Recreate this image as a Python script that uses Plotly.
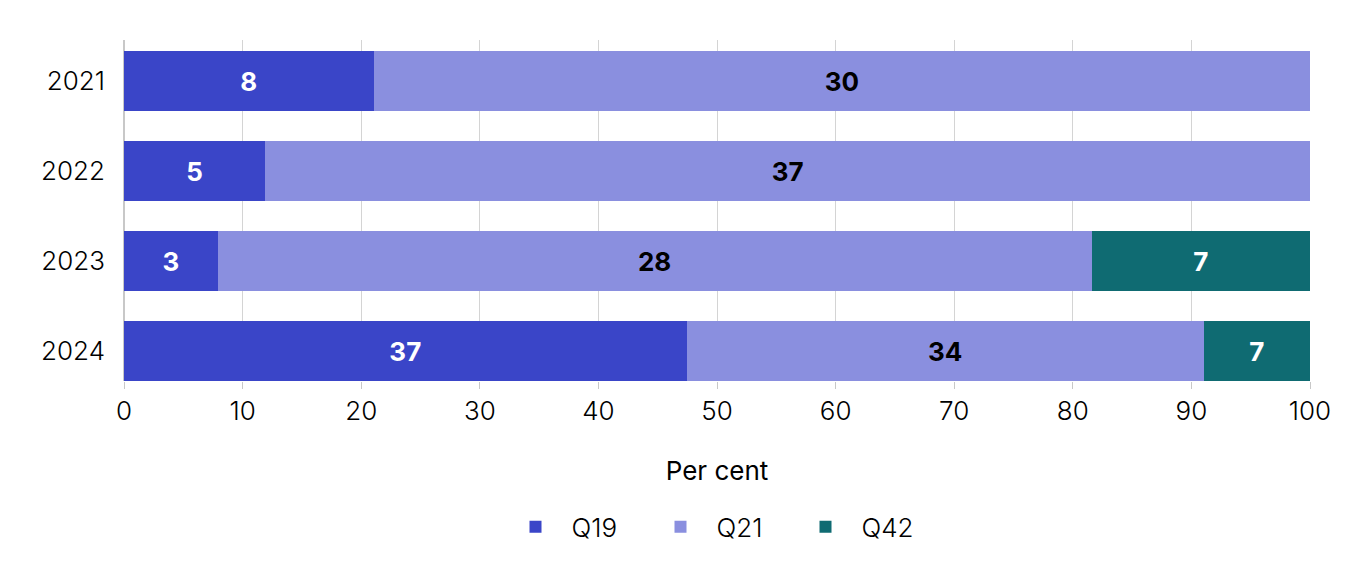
import plotly.graph_objects as go

years = ["2021", "2022", "2023", "2024"]
q19 = [8, 5, 3, 37]
q21 = [30, 37, 28, 34]
q42 = [None, None, 7, 7]

series = [
    ("Q19", q19, "#3a45c8", "white"),
    ("Q21", q21, "#8a8fdf", "black"),
    ("Q42", q42, "#0f6b72", "white"),
]

FONT = "Inter"
fig = go.Figure()
for name, vals, color, tcolor in series:
    fig.add_trace(go.Bar(
        y=years, x=vals, name=name, orientation="h",
        marker=dict(color=color, line=dict(width=0)),
        text=[str(v) if v is not None else "" for v in vals],
        textposition="inside", insidetextanchor="middle",
        textfont=dict(family=FONT, size=26, color=tcolor, weight=700),
        hoverinfo="skip",
    ))

fig.update_layout(
    barmode="stack", barnorm="percent", bargap=0.333,
    width=1360, height=580,
    margin=dict(l=116, r=58, t=32, b=207, autoexpand=False),
    paper_bgcolor="white", plot_bgcolor="white",
    font=dict(family=FONT, size=26, color="black"),
    legend=dict(orientation="h", x=0.5, xanchor="center", y=-0.428, yanchor="middle",
                font=dict(family=FONT, size=26, weight=300), itemwidth=62,
                entrywidth=68, entrywidthmode="pixels",
                traceorder="normal"),
    xaxis=dict(range=[0, 100], dtick=10, showgrid=True, gridcolor="#d4d4d4", gridwidth=1,
               zeroline=True, zerolinecolor="#c8c8c8", zerolinewidth=2,
               ticks="outside", ticklen=7, tickcolor="#c8c8c8",
               tickfont=dict(family=FONT, size=26, weight=300),
               title=dict(text="Per cent", font=dict(family=FONT, size=26, weight=400), standoff=36)),
    yaxis=dict(type="category", categoryorder="array", categoryarray=years,
               range=[3.333, -0.456], showgrid=False, ticks="", ticklabelstandoff=18,
               tickfont=dict(family=FONT, size=26, weight=300)),
)

fig.write_html("out.html")
